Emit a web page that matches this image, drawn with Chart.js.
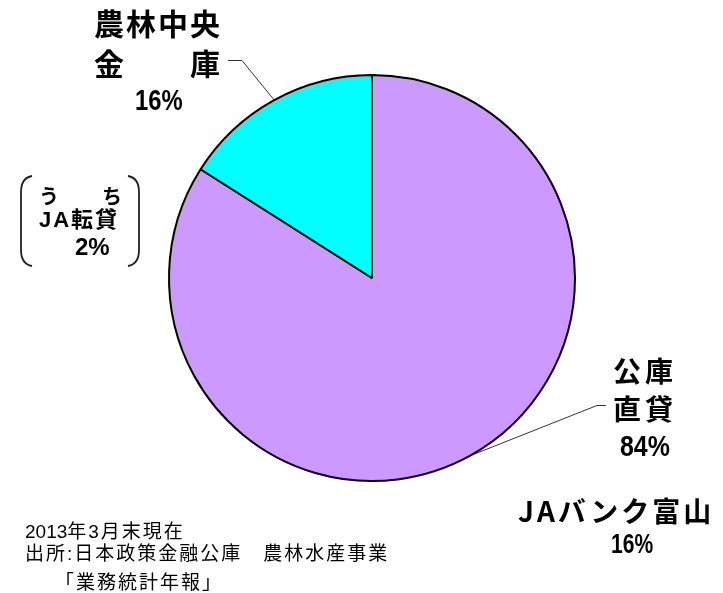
<!DOCTYPE html>
<html>
<head>
<meta charset="utf-8">
<script src="https://cdn.jsdelivr.net/npm/chart.js@4"></script>
<style>
  html, body { margin: 0; padding: 0; background: #fff; }
  #wrap { position: relative; width: 723px; height: 593px; overflow: hidden; }
  #c { position: absolute; left: 0; top: 0; }
  .t { position: absolute; white-space: pre; line-height: 1; color: #000;
       font-family: "Noto Sans CJK JP", "Noto Sans", sans-serif; transform-origin: 0 0; }
  .b { font-weight: 700; }
  .n { font-family: "Liberation Sans", sans-serif; }
  .a { font-family: "Liberation Sans", "Noto Sans CJK JP", sans-serif; }
</style>
</head>
<body>
<div id="wrap">
  <canvas id="c" width="723" height="593"></canvas>
</div>
<script>
// ---- data ----
const categories = ['公庫直貸', '農林中央金庫'];
const values = [84, 16];
const colors = ['#CC99FF', '#00FFFF'];
const noteLabel = 'JAバンク富山';
const noteValue = 16;
const subLabel = 'JA転貸';
const subValue = 2;
const asOfYear = '2013';
const footnotes = ['年3月末現在', '出所:日本政策金融公庫　農林水産事業', '「業務統計年報」'];

// ---- text labels (HTML) ----
const wrap = document.getElementById('wrap');
function addText(txt, left, top, size, opts) {
  opts = opts || {};
  const d = document.createElement('div');
  d.className = 't' + (opts.bold ? ' b' : '') + (opts.cls ? ' ' + opts.cls : '');
  d.style.left = left + 'px';
  d.style.top = top + 'px';
  d.style.fontSize = size + 'px';
  if (opts.ls !== undefined) d.style.letterSpacing = opts.ls + 'px';
  if (opts.sx) d.style.transform = 'scaleX(' + opts.sx + ')';
  if (opts.prefix) {
    const s = document.createElement('span');
    s.style.letterSpacing = '0px';
    s.textContent = opts.prefix;
    d.appendChild(s);
    d.appendChild(document.createTextNode(txt));
  } else {
    d.textContent = txt;
  }
  wrap.appendChild(d);
  return d;
}

// 農林中央金庫 label
addText('農林中央', 94, 7, 30, {bold: true, ls: 2});
addText('金　　庫', 94, 47, 30, {bold: true, ls: 2});
addText(values[1] + '%', 135, 86, 29, {bold: true, cls: 'n', sx: 0.82});

// 公庫直貸 label
addText('公庫', 613, 356, 28, {bold: true, ls: 4});
addText('直貸', 613, 394, 28, {bold: true, ls: 4});
addText(values[0] + '%', 620, 431, 30, {bold: true, cls: 'n', sx: 0.83});

// JAバンク富山
addText(noteLabel, 518, 496, 28, {bold: true, ls: 3});
addText(noteValue + '%', 611, 531, 27, {bold: true, cls: 'n', sx: 0.78});

// (うち JA転貸 2%)
addText('う', 39, 186, 20, {bold: true});
addText('ち', 102, 186, 20, {bold: true});
addText(subLabel, 39, 209, 22, {bold: true, ls: 2, cls: 'a'});
addText(subValue + '%', 75, 235, 24, {bold: true, cls: 'a'});

// footnotes
addText(footnotes[0], 25, 522, 19, {ls: 2, cls: 'a', prefix: asOfYear});
addText(footnotes[1], 25, 544, 19, {ls: 2, cls: 'a'});
addText(footnotes[2], 55, 573, 19, {ls: 2, cls: 'a'});

// ---- leader lines & brackets plugin ----
const annot = {
  id: 'annot',
  afterDatasetsDraw(chart) {
    const ctx = chart.ctx;
    const meta = chart.getDatasetMeta(0);
    function edge(i) {
      const a = meta.data[i];
      const p = a.getProps(['x', 'y', 'startAngle', 'endAngle', 'outerRadius'], true);
      const mid = (p.startAngle + p.endAngle) / 2;
      return [p.x + p.outerRadius * Math.cos(mid), p.y + p.outerRadius * Math.sin(mid)];
    }
    ctx.save();
    ctx.strokeStyle = '#000';
    ctx.lineWidth = 0.8;
    // 農林中央金庫 leader
    let e = edge(1);
    ctx.beginPath();
    ctx.moveTo(228, 60.5);
    ctx.lineTo(242, 60.5);
    ctx.lineTo(e[0], e[1]);
    ctx.stroke();
    // 公庫直貸 leader
    e = edge(0);
    ctx.beginPath();
    ctx.moveTo(606, 405.5);
    ctx.lineTo(597, 405.5);
    ctx.lineTo(e[0], e[1]);
    ctx.stroke();
    // brackets
    ctx.lineWidth = 1.8;
    ctx.strokeStyle = '#222';
    ctx.beginPath();
    ctx.moveTo(32, 176);
    ctx.quadraticCurveTo(21, 178, 21, 192);
    ctx.lineTo(21, 250);
    ctx.quadraticCurveTo(21, 264, 32, 266);
    ctx.stroke();
    ctx.beginPath();
    ctx.moveTo(128, 176);
    ctx.quadraticCurveTo(139, 178, 139, 192);
    ctx.lineTo(139, 250);
    ctx.quadraticCurveTo(139, 264, 128, 266);
    ctx.stroke();
    ctx.restore();
  }
};

new Chart(document.getElementById('c'), {
  type: 'pie',
  data: {
    labels: categories,
    datasets: [{
      data: values,
      backgroundColor: colors,
      borderColor: '#000',
      borderWidth: 2
    }]
  },
  options: {
    responsive: false,
    animation: false,
    devicePixelRatio: 1,
    events: [],
    layout: { padding: { left: 168, right: 147, top: 74, bottom: 111 } },
    plugins: {
      legend: { display: false },
      tooltip: { enabled: false },
      title: { display: false }
    }
  },
  plugins: [annot]
});
</script>
</body>
</html>
